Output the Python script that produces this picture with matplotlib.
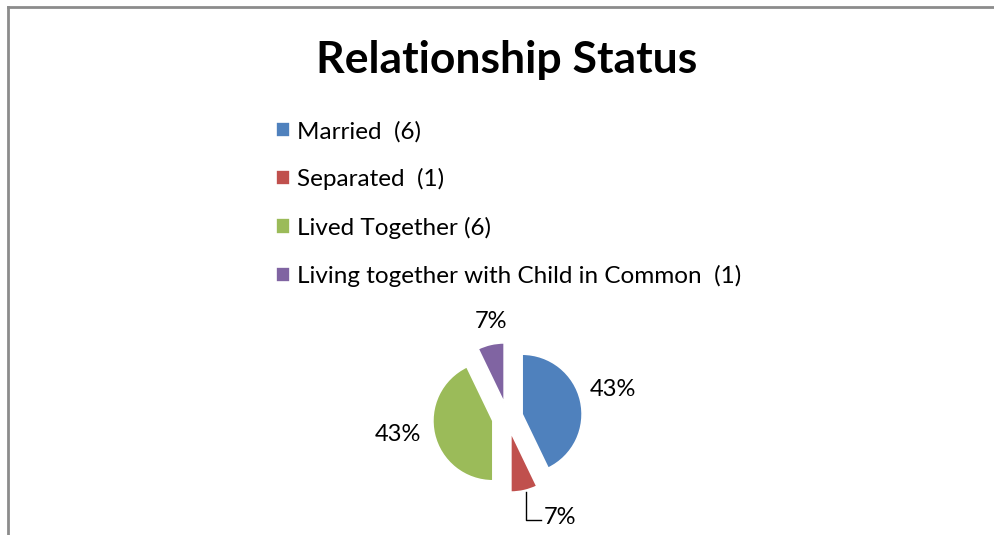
import matplotlib.pyplot as plt
from matplotlib.lines import Line2D
import numpy as np

# relationship status counts
categories = ['Married  (6)', 'Separated  (1)', 'Lived Together (6)',
              'Living together with Child in Common  (1)']
counts = [6, 1, 6, 1]
colors = ['#4F81BD', '#C0504D', '#9BBB59', '#8064A2']

plt.rcParams['font.family'] = ['Lato', 'DejaVu Sans']

fig = plt.figure(figsize=(9.94, 5.35), dpi=100, facecolor='w')

# chart area frame (only left and top edges show)
fig.add_artist(Line2D([8 / 994, 8 / 994], [0, 1 - 7 / 535], color='#8c8c8c', lw=2))
fig.add_artist(Line2D([8 / 994, 1], [1 - 7 / 535, 1 - 7 / 535], color='#8c8c8c', lw=2))

fig.text(0.510, 1 - 60 / 535, 'Relationship Status', ha='center', va='center',
         fontsize=32, fontweight='bold')

# pie axes: 60 px per data unit
cx, cy = 507.5, 417.5
ax = fig.add_axes([(cx - 150) / 994, (535 - cy - 150) / 535, 300 / 994, 300 / 535])

wedges, _ = ax.pie(counts, colors=colors, startangle=90, counterclock=False,
                   explode=[0.25] * 4, radius=1,
                   wedgeprops=dict(linewidth=1.2, edgecolor='#ffffff'))
ax.set_xlim(-2.5, 2.5)
ax.set_ylim(-2.5, 2.5)
ax.axis('off')
for w in wedges:
    w.set_clip_on(False)

total = sum(counts)
label_dist = [1.82, None, 1.85, 1.62]
label_turn = [2, 0, -4, -3]
for i, w in enumerate(wedges):
    pct = '{:.0f}%'.format(100 * counts[i] / total)
    mid = np.deg2rad((w.theta1 + w.theta2) / 2 + label_turn[i])
    if label_dist[i] is not None:
        ax.text(label_dist[i] * np.cos(mid), label_dist[i] * np.sin(mid), pct,
                ha='center', va='center', fontsize=17, clip_on=False)
    else:
        # leader line for the small bottom slice
        ax.plot([0.31, 0.31, 0.56], [-1.24, -1.71, -1.71], color='black', lw=1,
                clip_on=False)
        ax.text(0.60, -1.66, pct, ha='left', va='center', fontsize=17, clip_on=False)

fig.legend(wedges, categories, loc='upper left',
           bbox_to_anchor=(254 / 994, 1 - 99 / 535), frameon=False,
           fontsize=17.5, handlelength=0.58, handleheight=0.58, handletextpad=0.3,
           labelspacing=1.07)

fig.savefig('out.png', dpi=100, facecolor='w')
